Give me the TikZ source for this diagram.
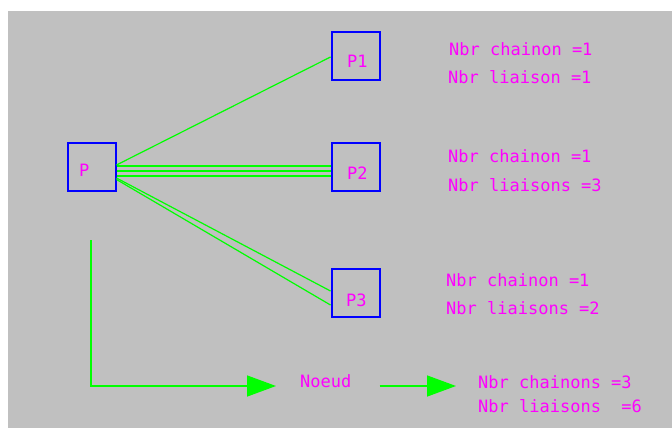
\documentclass[tikz,border=0pt]{standalone}
\usepackage{fontspec}
\setmonofont{DejaVu Sans Mono}
\usetikzlibrary{arrows.meta}
\definecolor{panel}{HTML}{C0C0C0}
\definecolor{linkgreen}{HTML}{00FF00}
\definecolor{boxblue}{HTML}{0000FF}
\definecolor{txtmag}{HTML}{FF00FF}

\begin{document}
\begin{tikzpicture}[x=1pt,y=-1pt,
  box/.style={draw=boxblue, line width=2pt, minimum size=48pt, inner sep=0pt},
  lbl/.style={text=txtmag, font=\ttfamily\fontsize{17}{17}\selectfont, anchor=base west, inner sep=0pt},
  link/.style={draw=linkgreen, line width=1.2pt},
  flow/.style={draw=linkgreen, line width=1.5pt, -{Triangle[length=29pt,width=21pt]}},
]
% page and grey panel
\fill[white] (0,0) rectangle (672,428);
\fill[panel] (8,11) rectangle (672,428);
\useasboundingbox (0,0) rectangle (672,428);

% process boxes
\node[box] (P)  at (91.5,166.5) {};
\node[box] (P1) at (355.5,56)   {};
\node[box] (P2) at (355.5,166.5) {};
\node[box] (P3) at (355.5,292.5) {};

\node[lbl] (tP)  at (79,176)  {P};
\node[lbl] (tP1) at (347,67)  {P1};
\node[lbl] (tP2) at (347,179) {P2};
\node[lbl] (tP3) at (346,306) {P3};

% links between P and the sub-processes
\draw[link] ([yshift=1.5pt]P.east) -- ([yshift=-1pt]P1.west);
\draw[link] ([yshift=0.5pt]P.east)  -- ([yshift=0.5pt]P2.west);
\draw[link] ([yshift=-4.5pt]P.east) -- ([yshift=-4.5pt]P2.west);
\draw[link] ([yshift=-9.5pt]P.east) -- ([yshift=-9.5pt]P2.west);
\draw[link] ([yshift=-11.5pt]P.east) -- ([yshift=1.5pt]P3.west);
\draw[link] ([yshift=-13pt]P.east) -- ([yshift=-12.5pt]P3.west);

% counts per sub-process
\node[lbl] (a1) at (449,56)  {Nbr chainon =1};
\node[lbl] (a2) at (448,83)  {Nbr liaison =1};
\node[lbl] (b1) at (448,162) {Nbr chainon =1};
\node[lbl] (b2) at (448,191) {Nbr liaisons =3};
\node[lbl] (c1) at (446,286) {Nbr chainon =1};
\node[lbl] (c2) at (446,314) {Nbr liaisons =2};

% node summary
\coordinate (src) at (91,240);
\node[lbl] (noeud) at (300,387) {Noeud};
\node[lbl] (d1) at (478,388) {Nbr chainons =3};
\node[lbl] (d2) at (478,412) {Nbr liaisons\ \ =6};

\draw[flow] (src) |- ([xshift=-24pt,yshift=1pt]noeud.base west);
\draw[flow] ([xshift=28pt,yshift=1pt]noeud.base east) -- ([xshift=-22pt,yshift=2pt]d1.base west);
\end{tikzpicture}
\end{document}
